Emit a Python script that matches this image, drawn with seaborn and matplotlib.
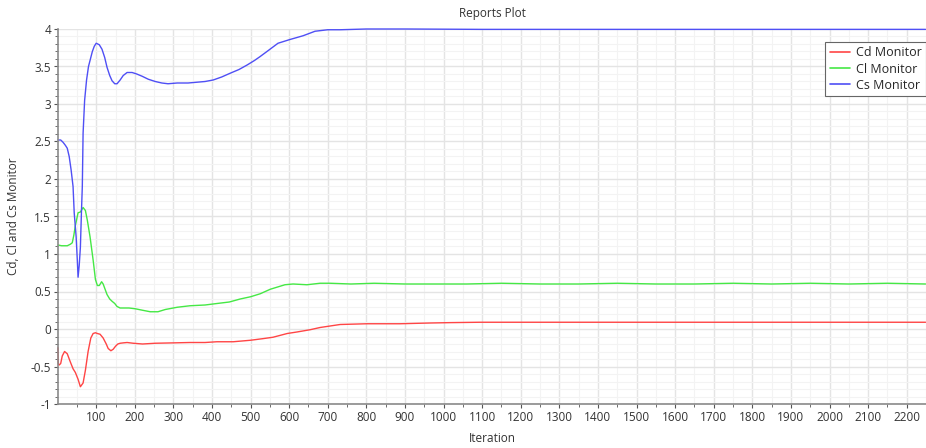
import numpy as np
import pandas as pd
import matplotlib
matplotlib.use("Agg")
import matplotlib.pyplot as plt
from matplotlib.ticker import MultipleLocator, FixedLocator
import seaborn as sns

# ---- data ----
cd_iter = [1, 2, 4, 8, 12, 18, 25, 33, 40, 46, 53, 59, 66, 72, 79, 86, 92, 98, 103, 110, 118, 126, 131, 138,
           144, 150, 156, 162, 170, 180, 196, 220, 253, 300, 343, 382, 413, 455, 500, 530, 558, 595, 620, 654,
           680, 706, 732, 802, 887, 965, 1017, 1094, 1300, 1500, 1664, 1900, 2100, 2249]
cd_vals = [-0.25, -0.47, -0.48, -0.46, -0.36, -0.30, -0.33, -0.44, -0.53, -0.58, -0.67, -0.77, -0.72, -0.55,
           -0.30, -0.12, -0.06, -0.05, -0.06, -0.07, -0.12, -0.20, -0.26, -0.29, -0.27, -0.23, -0.20, -0.19,
           -0.185, -0.18, -0.19, -0.20, -0.19, -0.185, -0.18, -0.18, -0.17, -0.17, -0.15, -0.13, -0.11, -0.06,
           -0.04, -0.01, 0.02, 0.04, 0.06, 0.07, 0.07, 0.08, 0.085, 0.09, 0.09, 0.09, 0.09, 0.09, 0.09, 0.09]

cl_iter = [1, 10, 25, 33, 38, 42, 46, 53, 59, 66, 72, 77, 84, 92, 98, 103, 108, 114, 118, 123, 128, 135, 141,
           148, 154, 162, 170, 185, 201, 220, 240, 260, 279, 310, 343, 382, 413, 445, 473, 500, 525, 551, 570,
           589, 610, 646, 680, 706, 760, 820, 900, 980, 1060, 1150, 1250, 1350, 1450, 1550, 1650, 1750, 1850,
           1950, 2050, 2150, 2249]
cl_vals = [1.12, 1.11, 1.11, 1.13, 1.15, 1.25, 1.38, 1.55, 1.56, 1.62, 1.58, 1.45, 1.23, 0.92, 0.66, 0.58,
           0.58, 0.63, 0.60, 0.53, 0.46, 0.40, 0.37, 0.34, 0.30, 0.28, 0.28, 0.28, 0.27, 0.25, 0.23, 0.23, 0.26,
           0.29, 0.31, 0.32, 0.34, 0.36, 0.40, 0.43, 0.47, 0.53, 0.56, 0.59, 0.60, 0.59, 0.61, 0.61, 0.60, 0.61,
           0.60, 0.60, 0.60, 0.61, 0.60, 0.60, 0.61, 0.60, 0.60, 0.61, 0.60, 0.61, 0.60, 0.61, 0.60]

cs_iter = [1, 8, 14, 20, 25, 30, 35, 40, 43, 48, 51, 53, 56, 59, 62, 64, 66, 70, 75, 80, 85, 90, 95, 100, 108,
           115, 122, 128, 135, 141, 148, 154, 162, 170, 180, 193, 205, 219, 235, 253, 270, 286, 310, 338, 360,
           382, 403, 425, 447, 470, 491, 510, 524, 545, 571, 602, 636, 667, 700, 732, 800, 900, 1100, 1400,
           1700, 2000, 2249]
cs_vals = [2.52, 2.52, 2.49, 2.45, 2.41, 2.30, 2.12, 1.90, 1.55, 1.23, 0.92, 0.69, 0.85, 1.09, 1.60, 1.90,
           2.61, 3.05, 3.32, 3.50, 3.60, 3.70, 3.77, 3.81, 3.79, 3.73, 3.62, 3.49, 3.38, 3.31, 3.27, 3.27, 3.32,
           3.38, 3.42, 3.42, 3.40, 3.37, 3.33, 3.30, 3.28, 3.27, 3.28, 3.28, 3.29, 3.30, 3.32, 3.36, 3.41, 3.46,
           3.52, 3.58, 3.63, 3.71, 3.81, 3.86, 3.91, 3.97, 3.99, 3.99, 4.0, 4.0, 3.995, 3.995, 3.995, 3.995, 3.995]

series_names = ["Cd Monitor", "Cl Monitor", "Cs Monitor"]
x_ticks = list(range(100, 2201, 100))
y_ticks = [-1, -0.5, 0, 0.5, 1, 1.5, 2, 2.5, 3, 3.5, 4]
y_tick_labels = ["-1", "-0.5", "0", "0.5", "1", "1.5", "2", "2.5", "3", "3.5", "4"]

df = pd.concat([
    pd.DataFrame({"Iteration": cd_iter, "value": cd_vals, "series": series_names[0]}),
    pd.DataFrame({"Iteration": cl_iter, "value": cl_vals, "series": series_names[1]}),
    pd.DataFrame({"Iteration": cs_iter, "value": cs_vals, "series": series_names[2]}),
], ignore_index=True)

sns.set_theme(style="white")
plt.rcParams["font.family"] = ["Open Sans", "DejaVu Sans"]

fig = plt.figure(figsize=(9.26, 4.48), dpi=100)
ax = fig.add_axes([58 / 926, 1 - 404 / 448, 1 - 58 / 926, (404 - 29) / 448])

palette = {"Cd Monitor": "#ff4545", "Cl Monitor": "#45e845", "Cs Monitor": "#4f4ff5"}
sns.lineplot(data=df, x="Iteration", y="value", hue="series", palette=palette,
             linewidth=1.0, ax=ax, sort=False, estimator=None)
for ln in ax.get_lines():
    ln.set_clip_on(False)

ax.set_xlim(1, 2250)
ax.set_ylim(-1, 4)
ax.xaxis.set_major_locator(FixedLocator(x_ticks))
ax.xaxis.set_minor_locator(MultipleLocator(50))
ax.yaxis.set_major_locator(FixedLocator(y_ticks))
ax.set_yticklabels(y_tick_labels)
ax.yaxis.set_minor_locator(MultipleLocator(0.1))

ax.grid(True, which="major", color="#e4e4e4", linewidth=1.0)
ax.grid(True, which="minor", color="#f3f3f3", linewidth=0.8)
ax.set_axisbelow(True)

for s in ["top", "right"]:
    ax.spines[s].set_visible(False)
for s in ["left", "bottom"]:
    ax.spines[s].set_color("#8a8a8a")
    ax.spines[s].set_linewidth(1.2)

ax.tick_params(axis="both", which="major", direction="out", length=3, width=0.8, color="#555555",
               labelsize=8.5, labelcolor="#333333", pad=2)
ax.tick_params(axis="both", which="minor", direction="out", length=2, width=0.6, color="#555555")
ax.xaxis.set_ticks_position("bottom")
ax.yaxis.set_ticks_position("left")

ax.set_xlabel("Iteration", fontsize=8.5, color="#333333", labelpad=6)
ax.set_ylabel("Cd, Cl and Cs Monitor", fontsize=8.5, color="#333333", labelpad=8)
ax.set_title("Reports Plot", fontsize=8.5, color="#333333", pad=9)

leg = ax.legend(loc="upper right", bbox_to_anchor=(1.0, 0.965), fontsize=9, frameon=True,
                fancybox=False, edgecolor="#666666", framealpha=1, handlelength=1.6,
                handletextpad=0.5, borderpad=0.35, labelspacing=0.25, borderaxespad=0.0)
leg.get_frame().set_linewidth(0.8)
for line in leg.get_lines():
    line.set_linewidth(1.2)

fig.savefig("out.png", dpi=100)
